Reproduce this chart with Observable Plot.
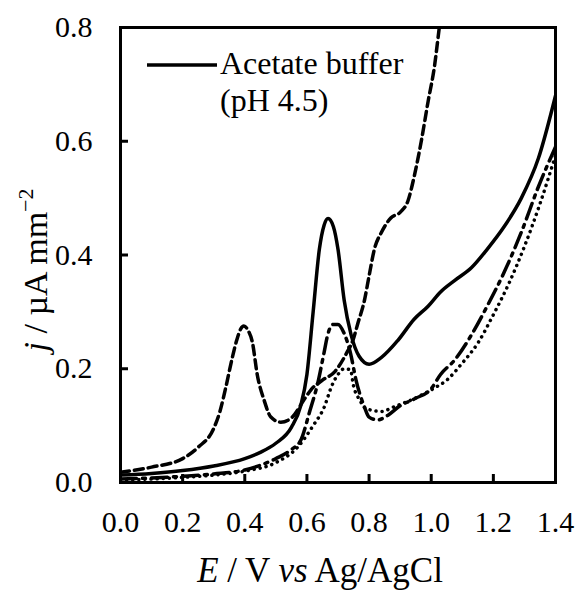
<!DOCTYPE html>
<html><head><meta charset="utf-8">
<script src="https://cdn.jsdelivr.net/npm/d3@7"></script>
<script src="https://cdn.jsdelivr.net/npm/@observablehq/plot@0.6"></script>
<style>body{margin:0;background:#fff} svg text{font-family:"Liberation Serif","Times New Roman",serif}</style>
</head><body><div id="chart"></div>
<script>
const xTicks = [0, 0.2, 0.4, 0.6, 0.8, 1.0, 1.2, 1.4];
const yTicks = [0, 0.2, 0.4, 0.6, 0.8];
const legendLines = ["Acetate buffer", "(pH 4.5)"];

// Solid series
const solidE = [0, 0.1, 0.2, 0.3, 0.4, 0.45, 0.5, 0.55, 0.58, 0.6, 0.62, 0.64, 0.655, 0.668, 0.685, 0.70, 0.72, 0.742, 0.768, 0.80, 0.84, 0.893, 0.945, 0.99, 1.03, 1.075, 1.13, 1.18, 1.235, 1.29, 1.345, 1.4];
const solidJ = [0.013, 0.016, 0.021, 0.029, 0.042, 0.053, 0.069, 0.097, 0.135, 0.19, 0.30, 0.41, 0.452, 0.464, 0.45, 0.41, 0.32, 0.26, 0.222, 0.208, 0.22, 0.25, 0.287, 0.31, 0.335, 0.355, 0.378, 0.41, 0.45, 0.50, 0.57, 0.68];

// Short-dashed series
const dashE = [0, 0.1, 0.2, 0.25, 0.3, 0.32, 0.34, 0.36, 0.375, 0.387, 0.397, 0.41, 0.425, 0.44, 0.462, 0.484, 0.516, 0.553, 0.59, 0.613, 0.65, 0.69, 0.73, 0.748, 0.764, 0.785, 0.80, 0.817, 0.84, 0.87, 0.90, 0.925, 0.946, 0.968, 0.99, 1.01, 1.026, 1.04];
const dashJ = [0.018, 0.027, 0.042, 0.062, 0.095, 0.125, 0.17, 0.22, 0.252, 0.27, 0.275, 0.268, 0.245, 0.19, 0.145, 0.115, 0.106, 0.115, 0.145, 0.163, 0.18, 0.195, 0.23, 0.25, 0.28, 0.32, 0.363, 0.41, 0.44, 0.465, 0.475, 0.495, 0.54, 0.60, 0.67, 0.73, 0.80, 0.86];

// Dash-dot series
const dashDotE = [0, 0.1, 0.2, 0.3, 0.4, 0.5, 0.55, 0.58, 0.61, 0.635, 0.655, 0.667, 0.685, 0.70, 0.72, 0.74, 0.758, 0.785, 0.80, 0.828, 0.86, 0.9, 0.95, 1.0, 1.03, 1.075, 1.13, 1.18, 1.235, 1.29, 1.345, 1.4];
const dashDotJ = [0.006, 0.008, 0.011, 0.015, 0.022, 0.042, 0.058, 0.074, 0.127, 0.175, 0.228, 0.26, 0.278, 0.278, 0.262, 0.228, 0.18, 0.133, 0.115, 0.11, 0.118, 0.135, 0.148, 0.165, 0.19, 0.215, 0.26, 0.31, 0.37, 0.44, 0.52, 0.59];

// Dotted series
const dotE = [0, 0.1, 0.2, 0.3, 0.4, 0.5, 0.57, 0.62, 0.656, 0.68, 0.70, 0.72, 0.74, 0.75, 0.77, 0.79, 0.84, 0.88, 0.935, 1.01, 1.05, 1.1, 1.15, 1.2, 1.25, 1.3, 1.35, 1.4];
const dotJ = [0.004, 0.006, 0.009, 0.013, 0.02, 0.035, 0.062, 0.10, 0.133, 0.17, 0.19, 0.2, 0.198, 0.17, 0.145, 0.13, 0.125, 0.133, 0.145, 0.166, 0.18, 0.21, 0.245, 0.295, 0.35, 0.415, 0.49, 0.575];

const rows = (E, J) => E.map((e, i) => ({E: e, j: J[i]}));

const W = 576, H = 593, mL = 120, mR = 21, mT = 27, mB = 111;
const pw = W - mL - mR, ph = H - mT - mB;
const font = "Liberation Serif, Times New Roman, serif";
const fmt = d => d.toFixed(1);

const plot = Plot.plot({
  width: W, height: H,
  marginLeft: mL, marginRight: mR, marginTop: mT, marginBottom: mB,
  style: {fontFamily: font, background: "white", color: "black", overflow: "visible"},
  x: {domain: [0, 1.4]},
  y: {domain: [0, 0.8]},
  marks: [
    Plot.line(rows(dotE, dotJ), {x: "E", y: "j", stroke: "black", strokeWidth: 3.5, strokeDasharray: "0.1,6", strokeLinecap: "round", curve: "monotone-x", clip: true}),
    Plot.line(rows(dashDotE, dashDotJ), {x: "E", y: "j", stroke: "black", strokeWidth: 3.5, strokeDasharray: "16,6,3,6", curve: "monotone-x", clip: true}),
    Plot.line(rows(dashE, dashJ), {x: "E", y: "j", stroke: "black", strokeWidth: 3.5, strokeDasharray: "9,5", curve: "monotone-x", clip: true}),
    Plot.line(rows(solidE, solidJ), {x: "E", y: "j", stroke: "black", strokeWidth: 3.5, curve: "monotone-x", clip: true}),
    Plot.tickX(xTicks, {x: d => d, stroke: "black", strokeWidth: 3, insetTop: ph - 8}),
    Plot.tickY(yTicks, {y: d => d, stroke: "black", strokeWidth: 3, insetRight: pw - 8}),
    Plot.frame({stroke: "black", strokeWidth: 3}),
    Plot.axisX(xTicks, {tickSize: 0, tickPadding: 28, fontSize: 30, tickFormat: fmt, label: null}),
    Plot.axisY(yTicks, {tickSize: 0, tickPadding: 28, fontSize: 30, tickFormat: fmt, label: null})
  ]
});

document.getElementById("chart").appendChild(plot);
const svg = d3.select(plot);

// X axis title
const xt = svg.append("text").attr("x", 320).attr("y", 582).attr("text-anchor", "middle")
  .attr("font-size", 35).attr("fill", "black");
xt.append("tspan").attr("font-style", "italic").text("E");
xt.append("tspan").text(" / V ");
xt.append("tspan").attr("font-style", "italic").text("vs");
xt.append("tspan").text(" Ag/AgCl");

// Y axis title
const yt = svg.append("text").attr("transform", "translate(47,270) rotate(-90)").attr("text-anchor", "middle")
  .attr("font-size", 34).attr("fill", "black");
yt.append("tspan").attr("font-style", "italic").text("j");
yt.append("tspan").text(" / µA mm");
yt.append("tspan").attr("font-size", 22).attr("dy", -14).text("−2");

// Legend
svg.append("line").attr("x1", 147).attr("x2", 217).attr("y1", 65).attr("y2", 65)
  .attr("stroke", "black").attr("stroke-width", 3.5);
legendLines.forEach((t, i) => {
  svg.append("text").attr("x", 220).attr("y", 74 + i * 37).attr("text-anchor", "start")
    .attr("font-size", 32).attr("fill", "black").text(t);
});

svg.selectAll("text").style("font-family", font);
</script>
</body></html>
